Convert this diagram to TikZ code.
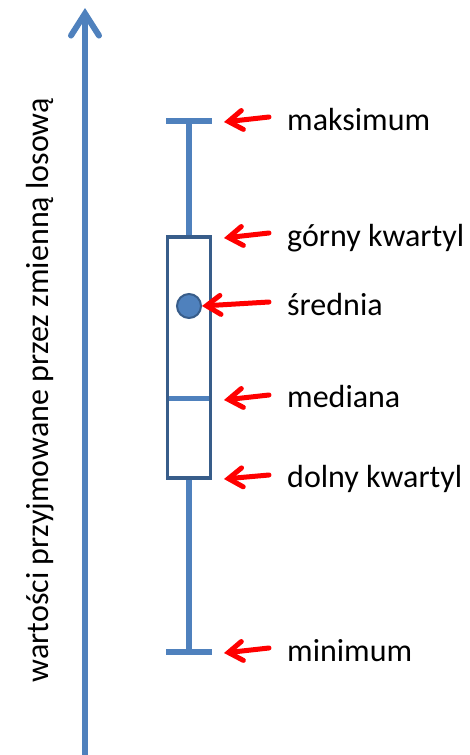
\documentclass[tikz,border=0pt]{standalone}
\usepackage{fontspec}
\setmainfont{Carlito}
\usetikzlibrary{arrows.meta}
\definecolor{boxblue}{HTML}{4F81BD}
\definecolor{darkblue}{HTML}{385D8A}
\begin{document}
\begin{tikzpicture}[x=1pt,y=-1pt,
  whisk/.style={draw=boxblue,line width=6pt},
  boxline/.style={draw=darkblue,line width=3.3pt,fill=white},
  redarr/.style={draw=red,line width=5pt,line cap=round,-{Straight Barb[length=14pt,width=19pt,line cap=round]}},
  lbl/.style={anchor=base west,inner sep=0pt,text height=23pt,text depth=7pt,font=\fontsize{32}{38}\selectfont},
  axisarr/.style={draw=boxblue,line width=6pt,-{Straight Barb[length=22pt,width=28pt,line cap=round]}}]
\useasboundingbox (0,0) rectangle (469,755);
% axis
\coordinate (axbot) at (85,755);
\coordinate (axtop) at (85,8);
\draw[axisarr] (axbot) -- (axtop);
\node[rotate=90,inner sep=0pt,font=\fontsize{32}{38}\selectfont] (axlabel) at (40,390) {wartości przyjmowane przez zmienną losową};
% boxplot geometry
\coordinate (maxL) at (166,121);
\coordinate (maxR) at (212,121);
\coordinate (maxC) at (189,121);
\coordinate (q3C) at (189,237);
\coordinate (q1C) at (189,478);
\coordinate (minL) at (166,652);
\coordinate (minR) at (212,652);
\coordinate (minC) at (189,652);
\draw[whisk] (maxL) -- (maxR);
\draw[whisk] (maxC) -- (q3C);
\draw[whisk] (minL) -- (minR);
\draw[whisk] (minC) -- (q1C);
\draw[boxline] (167.6,237) rectangle (210.6,478);
\coordinate (medL) at (169.2,398);
\coordinate (medR) at (209,398);
\draw[draw=boxblue,line width=5pt] (medL) -- (medR);
\node[circle,fill=boxblue,draw=darkblue,line width=2pt,minimum size=24pt,inner sep=0pt] (mean) at (189,306) {};
% labels
\node[lbl] (lmax) at (287,130) {maksimum};
\node[lbl] (lq3) at (287,246) {górny kwartyl};
\node[lbl] (lmean) at (287,315) {średnia};
\node[lbl] (lmed) at (287,407) {mediana};
\node[lbl] (lq1) at (287,487) {dolny kwartyl};
\node[lbl] (lmin) at (287,661) {minimum};
% arrow tails
\coordinate (smax) at (269,117);
\coordinate (sq3) at (269,233);
\coordinate (smean) at (269,302);
\coordinate (smed) at (269,395);
\coordinate (sq1) at (269,475);
\coordinate (smin) at (269,648);
% arrow targets
\coordinate (tmax) at (224,122);
\coordinate (tq3) at (224,238);
\coordinate (tmed) at (224,400);
\coordinate (tq1) at (224,479);
\coordinate (tmin) at (224,653);
\draw[redarr] (smax) -- (tmax);
\draw[redarr] (sq3) -- (tq3);
\draw[redarr] (smean) -- (mean.east);
\draw[redarr] (smed) -- (tmed);
\draw[redarr] (sq1) -- (tq1);
\draw[redarr] (smin) -- (tmin);
\end{tikzpicture}
\end{document}
